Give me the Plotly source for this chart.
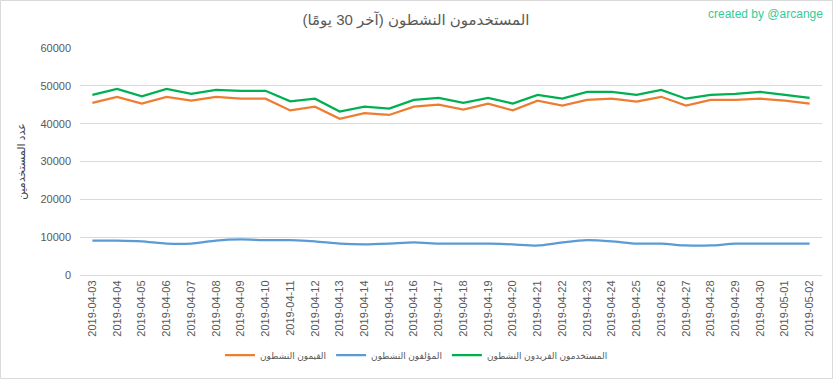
import plotly.graph_objects as go

dates = ["2019-04-03","2019-04-04","2019-04-05","2019-04-06","2019-04-07","2019-04-08","2019-04-09","2019-04-10",
         "2019-04-11","2019-04-12","2019-04-13","2019-04-14","2019-04-15","2019-04-16","2019-04-17","2019-04-18",
         "2019-04-19","2019-04-20","2019-04-21","2019-04-22","2019-04-23","2019-04-24","2019-04-25","2019-04-26",
         "2019-04-27","2019-04-28","2019-04-29","2019-04-30","2019-05-01","2019-05-02"]

curators = [45500, 47100, 45300, 47100, 46100, 47100, 46600, 46600, 43500, 44500, 41300, 42800, 42300, 44500, 45000,
            43700, 45300, 43500, 46100, 44800, 46300, 46600, 45800, 47100, 44800, 46300, 46300, 46600, 46100, 45300]
authors = [9100, 9100, 8900, 8300, 8300, 9100, 9400, 9200, 9200, 8900, 8300, 8100, 8300, 8600, 8300,
           8300, 8300, 8100, 7800, 8600, 9200, 8900, 8300, 8300, 7800, 7800, 8300, 8300, 8300, 8300]
unique_users = [47600, 49200, 47200, 49200, 47900, 48900, 48700, 48700, 45900, 46600, 43200, 44500, 44000, 46300, 46800,
                45500, 46800, 45300, 47600, 46600, 48400, 48400, 47600, 48900, 46600, 47600, 47900, 48400, 47600, 46800]

names = ["القيمون النشطون", "المؤلفون النشطون", "المستخدمون الفريدون النشطون"]
colors = ["#ED7D31", "#5B9BD5", "#00B050"]
yticks = [0, 10000, 20000, 30000, 40000, 50000, 60000]

FONT = "Liberation Sans, DejaVu Sans, sans-serif"

fig = go.Figure()
fig.add_trace(go.Scatter(x=dates, y=curators, name=names[0], mode="lines",
                         line=dict(color=colors[0], width=2.25)))
fig.add_trace(go.Scatter(x=dates, y=authors, name=names[1], mode="lines",
                         line=dict(color=colors[1], width=2.25, shape="spline", smoothing=0.6)))
fig.add_trace(go.Scatter(x=dates, y=unique_users, name=names[2], mode="lines",
                         line=dict(color=colors[2], width=2.25)))

L, R, T, B = 80, 11, 48, 104
W, H = 833, 379
pw, ph = W - L - R, H - T - B

fig.update_layout(
    width=W, height=H,
    margin=dict(l=L, r=R, t=T, b=B, autoexpand=False),
    paper_bgcolor="white", plot_bgcolor="white",
    font=dict(family=FONT, color="#595959", size=11),
    title=dict(text="المستخدمون النشطون (آخر 30 يومًا)", x=416 / W, xanchor="center",
               y=1 - 20 / H, yanchor="middle", font=dict(size=15, color="#595959")),
    showlegend=True,
    legend=dict(orientation="h", x=(W / 2 - L) / pw, xanchor="center", y=-80 / ph, yanchor="middle",
                font=dict(size=9, color="#595959"), traceorder="normal", itemwidth=30),
    xaxis=dict(type="category", range=[-0.5, len(dates) - 0.5], tickangle=-90,
               showgrid=False, showline=True, linecolor="#D9D9D9", linewidth=1,
               ticks="", tickfont=dict(size=11, color="#595959")),
    yaxis=dict(range=[0, 60000], tickvals=yticks, ticktext=[str(v) for v in yticks],
               showgrid=True, gridcolor="#D9D9D9", gridwidth=1, zeroline=False,
               showline=False, ticks="", ticklabelstandoff=8, tickfont=dict(size=11, color="#595959"),
               title=dict(text="عدد المستخدمين", font=dict(size=11, color="#404040"), standoff=12)),
    annotations=[dict(text="created by @arcange", xref="paper", yref="paper",
                      x=(825 - L) / pw, xanchor="right", y=1 + (T - 14) / ph, yanchor="middle",
                      showarrow=False, font=dict(size=12, color="#33CC99"))],
    shapes=[dict(type="rect", xref="paper", yref="paper",
                 x0=-(L - 0.5) / pw, x1=1 + (R - 0.5) / pw,
                 y0=-(B - 0.5) / ph, y1=1 + (T - 0.5) / ph,
                 line=dict(color="#D9D9D9", width=1))],
)

fig.write_html("out.html", config={"displayModeBar": False},
               post_script="document.body.style.margin='0';document.body.style.overflow='hidden';")
